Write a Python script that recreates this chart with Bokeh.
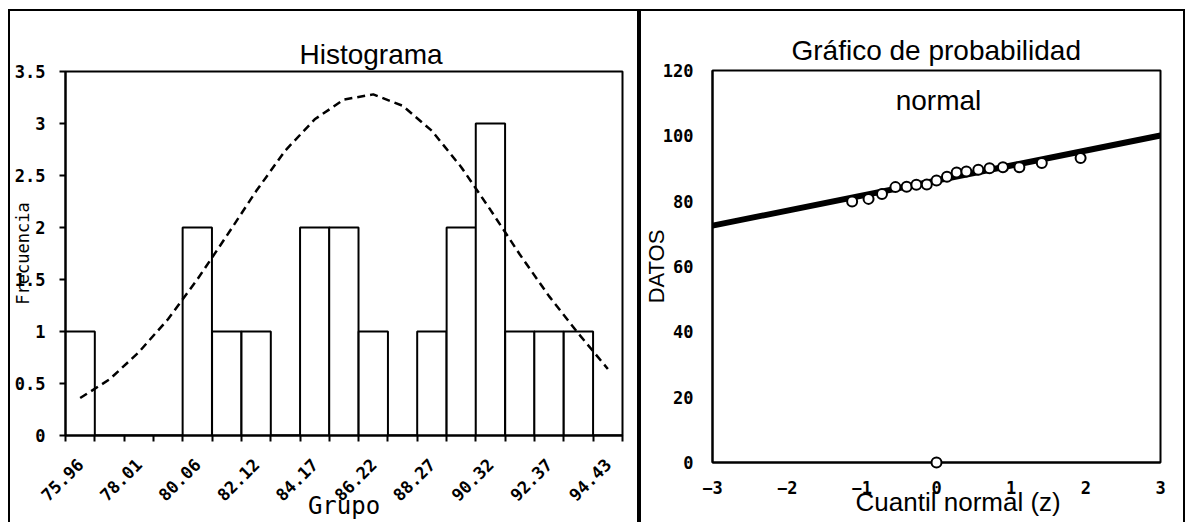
import math
from bokeh.plotting import figure
from bokeh.models import (Range1d, FixedTicker, Label,
                          PrintfTickFormatter, CustomJSTickFormatter)
from bokeh.layouts import row
from bokeh.embed import file_html
from bokeh.resources import INLINE

# ---------------- Histograma ----------------
grupo = [75.96, 76.99, 78.01, 79.04, 80.06, 81.09, 82.12, 83.14, 84.17, 85.19,
         86.22, 87.25, 88.27, 89.30, 90.32, 91.35, 92.37, 93.40, 94.43]
frecuencia = [1, 0, 0, 0, 2, 1, 1, 0, 2, 2, 1, 0, 1, 2, 3, 1, 1, 1, 0]
curva_normal = [0.36, 0.54, 0.80, 1.12, 1.50, 1.92, 2.35, 2.74, 3.04, 3.23,
                3.28, 3.17, 2.93, 2.58, 2.17, 1.74, 1.34, 0.98, 0.64]
ticks_frecuencia = [0, 0.5, 1, 1.5, 2, 2.5, 3, 3.5]

# ---------------- Probabilidad normal ----------------
cuantil_z = [-1.13, -0.91, -0.73, -0.55, -0.40, -0.27, -0.13, 0.00, 0.14,
             0.27, 0.40, 0.56, 0.71, 0.89, 1.11, 1.41, 1.93, 0.00]
datos = [79.9, 80.7, 82.2, 84.3, 84.4, 85.0, 85.1, 86.3, 87.5,
         88.8, 89.1, 89.6, 90.1, 90.4, 90.4, 91.7, 93.2, 0.0]
recta_z = [-3, 3]
recta_datos = [72.5, 100.1]
ticks_z = [-3, -2, -1, 0, 1, 2, 3]
ticks_datos = [0, 20, 40, 60, 80, 100, 120]

MONO = "DejaVu Sans Mono"
SANS = "Liberation Sans"


def style_axis(ax, size="17px"):
    ax.axis_line_width = 2
    ax.axis_line_color = "black"
    ax.major_label_text_font = MONO
    ax.major_label_text_font_style = "bold"
    ax.major_label_text_font_size = size
    ax.major_label_text_color = "black"
    ax.minor_tick_out = 0
    ax.minor_tick_in = 0
    ax.major_tick_in = 0


# ---------- panel 1 ----------
ancho = (grupo[-1] - grupo[0]) / (len(grupo) - 1)
bordes = [grupo[0] - ancho / 2] + [(a + b) / 2 for a, b in zip(grupo[:-1], grupo[1:])] + [grupo[-1] + ancho / 2]

p1 = figure(width=631, height=513, output_backend="svg", toolbar_location=None,
            x_range=Range1d(bordes[0], bordes[-1]), y_range=Range1d(0, 3.5),
            min_border_left=57, min_border_right=17, min_border_top=62, min_border_bottom=87,
            margin=(9, 0, 0, 8))
p1.frame_align = False
p1.grid.visible = False
p1.outline_line_color = "black"
p1.outline_line_width = 2
p1.background_fill_color = "white"
p1.border_fill_color = None
p1.styles = {"box-shadow": "inset 2px 2px 0 0 black, inset -2px 0 0 0 black"}

p1.vbar(x=grupo, top=frecuencia, width=ancho, fill_color="white",
        line_color="black", line_width=2)
p1.line(grupo, curva_normal, line_dash="8 5", line_width=2.5, color="black")

xa = p1.xaxis[0]
style_axis(xa)
xa.ticker = FixedTicker(ticks=grupo[::2], minor_ticks=bordes)
xa.formatter = PrintfTickFormatter(format="%.2f")
xa.major_label_orientation = math.pi / 4
xa.major_tick_out = 0
xa.minor_tick_out = 6
xa.minor_tick_line_color = "black"
xa.minor_tick_line_width = 2
xa.major_label_standoff = 20
xa.axis_label = "Grupo"
xa.axis_label_text_font = MONO
xa.axis_label_text_font_style = "normal"
xa.axis_label_text_font_size = "24px"
xa.axis_label_text_color = "black"
xa.axis_label_standoff = -18

ya = p1.yaxis[0]
style_axis(ya)
ya.ticker = FixedTicker(ticks=ticks_frecuencia)
ya.formatter = CustomJSTickFormatter(code="return tick.toString()")
ya.major_tick_out = 6
ya.major_tick_line_width = 2
ya.major_label_standoff = 14
ya.axis_label = "Frecuencia"
ya.axis_label_text_font = MONO
ya.axis_label_text_font_style = "normal"
ya.axis_label_text_font_size = "17px"
ya.axis_label_text_color = "black"
ya.axis_label_standoff = -21

p1.title.text = "Histograma"
p1.title.align = "left"
p1.title.offset = 234
p1.title.standoff = 3
p1.title.text_font = SANS
p1.title.text_font_style = "normal"
p1.title.text_font_size = "28px"
p1.title.text_color = "black"

# ---------- panel 2 ----------
p2 = figure(width=546, height=513, output_backend="svg", toolbar_location=None,
            x_range=Range1d(-3, 3), y_range=Range1d(0, 120),
            min_border_left=73, min_border_right=25, min_border_top=61, min_border_bottom=60,
            margin=(9, 0, 0, 0))
p2.frame_align = False
p2.grid.visible = False
p2.outline_line_color = "black"
p2.outline_line_width = 2
p2.background_fill_color = "white"
p2.border_fill_color = None
p2.styles = {"box-shadow": "inset 2px 2px 0 0 black, inset -2px 0 0 0 black"}

p2.line(recta_z, recta_datos, line_width=6, color="black")
p2.scatter(cuantil_z, datos, size=10, marker="circle", fill_color="white",
           line_color="black", line_width=2, level="overlay")

xb = p2.xaxis[0]
style_axis(xb)
xb.ticker = FixedTicker(ticks=ticks_z)
xb.major_tick_out = 0
xb.major_label_standoff = 18
xb.axis_label = "\u00a0" * 6 + "Cuantil normal (z)"
xb.axis_label_text_font = SANS
xb.axis_label_text_font_style = "normal"
xb.axis_label_text_font_size = "26px"
xb.axis_label_text_color = "black"
xb.axis_label_standoff = -10

yb = p2.yaxis[0]
style_axis(yb)
yb.ticker = FixedTicker(ticks=ticks_datos)
yb.major_tick_out = 0
yb.major_label_standoff = 19
yb.axis_label = "DATOS"
yb.axis_label_text_font = SANS
yb.axis_label_text_font_style = "normal"
yb.axis_label_text_font_size = "22px"
yb.axis_label_text_color = "black"
yb.axis_label_standoff = -9

p2.title.text = "Gráfico de probabilidad"
p2.title.align = "left"
p2.title.offset = 79
p2.title.standoff = 10
p2.title.text_font = SANS
p2.title.text_font_style = "normal"
p2.title.text_font_size = "28px"
p2.title.text_color = "black"

p2.add_layout(Label(x=226, y=362, x_units="screen", y_units="screen",
                    text="normal", text_font=SANS, text_font_size="28px",
                    text_align="center", text_baseline="alphabetic", text_color="black"))

layout = row(p1, p2, spacing=0)
open("out.html", "w").write(file_html(layout, INLINE))
